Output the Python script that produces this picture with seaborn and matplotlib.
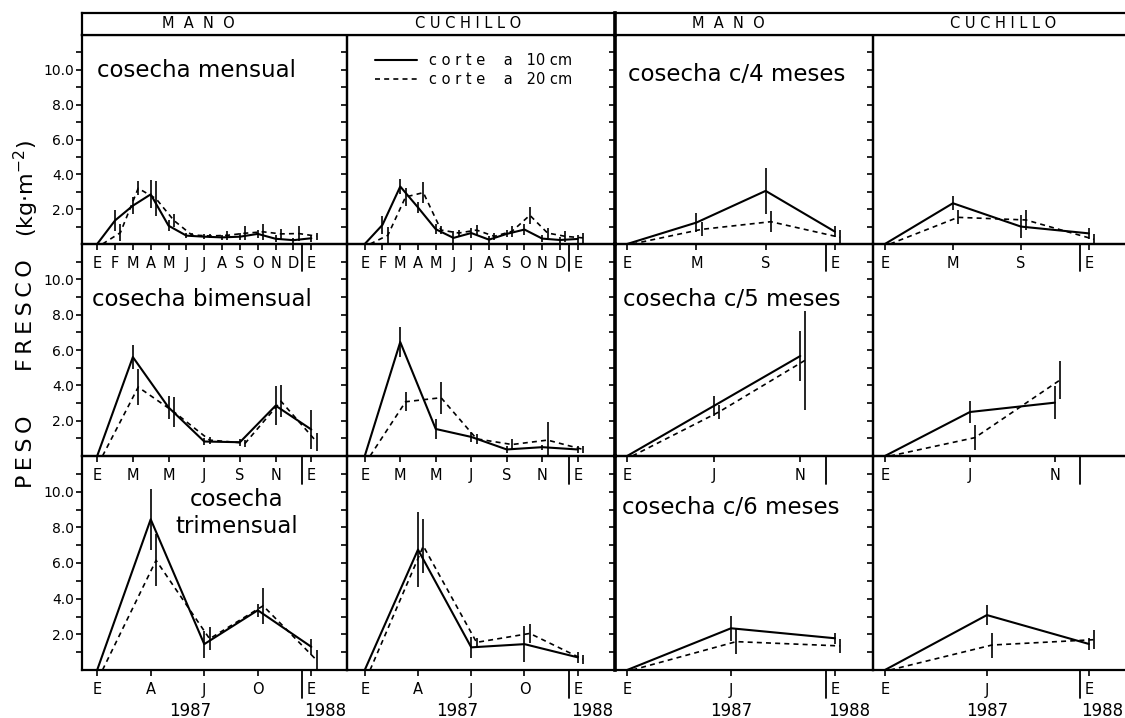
import numpy as np
import pandas as pd
import matplotlib
matplotlib.use("Agg")
import matplotlib.pyplot as plt
import matplotlib.transforms as mtransforms
from matplotlib.lines import Line2D
import seaborn as sns

# ---------------- data (kg/m2) ----------------
meses_mensual = [0, 1, 2, 3, 4, 5, 6, 7, 8, 9, 10, 11, 12]
meses_bimensual = [0, 2, 4, 6, 8, 10, 12]
meses_trimensual = [0, 3, 6, 9, 12]
meses_c4 = [0, 4, 8, 12]
meses_c5 = [0, 5, 10]
meses_c6 = [0, 6, 12]

lab_mensual = ["E", "F", "M", "A", "M", "J", "J", "A", "S", "O", "N", "D", "E"]
lab_bimensual = ["E", "M", "M", "J", "S", "N", "E"]
lab_trimensual = ["E", "A", "J", "O", "E"]
lab_c4 = ["E", "M", "S", "E"]
lab_c5 = ["E", "J", "N"]
lab_c6 = ["E", "J", "E"]

# cosecha mensual
mens_mano_10 = [0, 1.35, 2.2, 2.85, 1.05, 0.48, 0.42, 0.38, 0.42, 0.58, 0.30, 0.22, 0.33]
mens_mano_10_err = [0, 0.6, 0.5, 0.8, 0.3, 0.15, 0.15, 0.15, 0.2, 0.25, 0.2, 0.15, 0.2]
mens_mano_20 = [0, 0.65, 3.2, 2.6, 1.35, 0.52, 0.46, 0.50, 0.62, 0.70, 0.58, 0.60, 0.45]
mens_mano_20_err = [0, 0.5, 0.4, 1.0, 0.4, 0.1, 0.1, 0.25, 0.4, 0.45, 0.3, 0.45, 0.2]
mens_cuch_10 = [0, 1.1, 3.3, 2.1, 0.85, 0.35, 0.63, 0.25, 0.58, 0.83, 0.31, 0.23, 0.29]
mens_cuch_10_err = [0, 0.5, 0.45, 0.3, 0.3, 0.4, 0.3, 0.2, 0.2, 0.3, 0.2, 0.2, 0.25]
mens_cuch_20 = [0, 0.5, 2.7, 2.95, 0.8, 0.63, 0.8, 0.44, 0.73, 1.65, 0.63, 0.44, 0.35]
mens_cuch_20_err = [0, 0.5, 0.5, 0.6, 0.25, 0.2, 0.3, 0.2, 0.3, 0.5, 0.3, 0.3, 0.3]

# cosecha bimensual
bim_mano_10 = [0, 5.6, 2.75, 0.82, 0.78, 2.85, 1.5]
bim_mano_10_err = [0, 0.7, 0.65, 0.2, 0.2, 1.1, 1.1]
bim_mano_20 = [0, 3.9, 2.5, 0.9, 0.73, 3.1, 0.8]
bim_mano_20_err = [0, 1.0, 0.85, 0.2, 0.2, 0.9, 0.5]
bim_cuch_10 = [0, 6.45, 1.53, 1.08, 0.37, 0.5, 0.37]
bim_cuch_10_err = [0, 0.85, 0.55, 0.3, 0.2, 0.15, 0.2]
bim_cuch_20 = [0, 3.07, 3.3, 0.97, 0.65, 0.9, 0.37]
bim_cuch_20_err = [0, 0.55, 0.9, 0.3, 0.3, 1.0, 0.2]

# cosecha trimensual
tri_mano_10 = [0, 8.45, 1.45, 3.35, 1.3]
tri_mano_10_err = [0, 1.7, 0.75, 0.35, 0.45]
tri_mano_20 = [0, 6.15, 1.75, 3.6, 0.55]
tri_mano_20_err = [0, 1.45, 0.65, 1.0, 0.55]
tri_cuch_10 = [0, 6.75, 1.27, 1.45, 0.71]
tri_cuch_10_err = [0, 2.1, 0.6, 1.0, 0.3]
tri_cuch_20 = [0, 6.95, 1.55, 2.05, 0.6]
tri_cuch_20_err = [0, 1.5, 0.25, 0.55, 0.25]

# cosecha c/4 meses
c4_mano_10 = [0, 1.23, 3.05, 0.71]
c4_mano_10_err = [0, 0.55, 1.3, 0.3]
c4_mano_20 = [0, 0.84, 1.28, 0.38]
c4_mano_20_err = [0, 0.4, 0.6, 0.4]
c4_cuch_10 = [0, 2.34, 1.0, 0.61]
c4_cuch_10_err = [0, 0.4, 0.65, 0.3]
c4_cuch_20 = [0, 1.53, 1.38, 0.27]
c4_cuch_20_err = [0, 0.4, 0.55, 0.3]

# cosecha c/5 meses
c5_mano_10 = [0, 2.83, 5.66]
c5_mano_10_err = [0, 0.55, 1.4]
c5_mano_20 = [0, 2.49, 5.43]
c5_mano_20_err = [0, 0.4, 2.8]
c5_cuch_10 = [0, 2.49, 3.02]
c5_cuch_10_err = [0, 0.6, 0.95]
c5_cuch_20 = [0, 1.04, 4.3]
c5_cuch_20_err = [0, 0.7, 1.1]

# cosecha c/6 meses
c6_mano_10 = [0, 2.34, 1.78]
c6_mano_10_err = [0, 0.7, 0.3]
c6_mano_20 = [0, 1.59, 1.35]
c6_mano_20_err = [0, 0.7, 0.4]
c6_cuch_10 = [0, 3.08, 1.46]
c6_cuch_10_err = [0, 0.55, 0.35]
c6_cuch_20 = [0, 1.4, 1.7]
c6_cuch_20_err = [0, 0.7, 0.55]

titulos = {(0, 0): "cosecha mensual", (1, 0): "cosecha bimensual",
           (2, 0): "cosecha\ntrimensual", (0, 2): "cosecha c/4 meses",
           (1, 2): "cosecha c/5 meses", (2, 2): "cosecha c/6 meses"}
cabeceras = ["M  A  N  O", "C U C H I L L O", "M  A  N  O", "C U C H I L L O"]
leyenda = ["c o r t e    a   10 cm", "c o r t e    a   20 cm"]

# ---------------- style ----------------
sns.set_theme(style="ticks")
plt.rcParams["font.family"] = ["DejaVu Sans"]
plt.rcParams["axes.edgecolor"] = "black"
plt.rcParams["xtick.color"] = "black"
plt.rcParams["ytick.color"] = "black"
plt.rcParams["text.color"] = "black"
plt.rcParams["axes.labelcolor"] = "black"

W, H = 1125, 718
fig = plt.figure(figsize=(W / 100, H / 100), dpi=100)
fig.patch.set_facecolor("white")

col_x = [82, 347, 615, 873, 1128]
row_y = [35, 244, 456, 670]
XLIM = [(-0.85, 14.0), (-1.0, 14.1), (-0.7, 14.2), (-0.7, 14.3)]
DODGE = 0.3
DASH = (0, (3, 2.5))


def axes_at(c, r):
    x0, x1 = col_x[c] / W, col_x[c + 1] / W
    y0, y1 = 1 - row_y[r + 1] / H, 1 - row_y[r] / H
    return fig.add_axes([x0, y0, x1 - x0, y1 - y0])


panels = [
    (0, 0, meses_mensual, lab_mensual, mens_mano_10, mens_mano_10_err, mens_mano_20, mens_mano_20_err),
    (0, 1, meses_mensual, lab_mensual, mens_cuch_10, mens_cuch_10_err, mens_cuch_20, mens_cuch_20_err),
    (1, 0, meses_bimensual, lab_bimensual, bim_mano_10, bim_mano_10_err, bim_mano_20, bim_mano_20_err),
    (1, 1, meses_bimensual, lab_bimensual, bim_cuch_10, bim_cuch_10_err, bim_cuch_20, bim_cuch_20_err),
    (2, 0, meses_trimensual, lab_trimensual, tri_mano_10, tri_mano_10_err, tri_mano_20, tri_mano_20_err),
    (2, 1, meses_trimensual, lab_trimensual, tri_cuch_10, tri_cuch_10_err, tri_cuch_20, tri_cuch_20_err),
    (0, 2, meses_c4, lab_c4, c4_mano_10, c4_mano_10_err, c4_mano_20, c4_mano_20_err),
    (0, 3, meses_c4, lab_c4, c4_cuch_10, c4_cuch_10_err, c4_cuch_20, c4_cuch_20_err),
    (1, 2, meses_c5, lab_c5, c5_mano_10, c5_mano_10_err, c5_mano_20, c5_mano_20_err),
    (1, 3, meses_c5, lab_c5, c5_cuch_10, c5_cuch_10_err, c5_cuch_20, c5_cuch_20_err),
    (2, 2, meses_c6, lab_c6, c6_mano_10, c6_mano_10_err, c6_mano_20, c6_mano_20_err),
    (2, 3, meses_c6, lab_c6, c6_cuch_10, c6_cuch_10_err, c6_cuch_20, c6_cuch_20_err),
]

for r, c, meses, etiquetas, v10, e10, v20, e20 in panels:
    ax = axes_at(c, r)
    ax.patch.set_alpha(0)
    d10 = pd.DataFrame({"x": np.array(meses, float), "peso": v10, "err": e10})
    d20 = pd.DataFrame({"x": np.array(meses, float) + DODGE, "peso": v20, "err": e20})
    sns.lineplot(data=d10, x="x", y="peso", color="black", lw=1.5, ax=ax,
                 estimator=None, errorbar=None, legend=False)
    sns.lineplot(data=d20, x="x", y="peso", color="black", lw=1.2, ax=ax,
                 linestyle=DASH, estimator=None, errorbar=None, legend=False)
    for d in (d10, d20):
        dd = d[d["err"] > 0]
        ax.vlines(dd["x"], dd["peso"] - dd["err"], dd["peso"] + dd["err"],
                  colors="black", lw=1.2)
    ax.set_xlim(*XLIM[c])
    ax.set_ylim(0, 12)
    ax.set_xlabel("")
    ax.set_ylabel("")
    ax.set_xticks(meses)
    ax.set_xticklabels(etiquetas)
    ax.set_yticks([2, 4, 6, 8, 10])
    ax.set_yticks([1, 3, 5, 7, 9, 11], minor=True)
    if c == 0:
        ax.set_yticklabels(["2.0", "4.0", "6.0", "8.0", "10.0"])
    else:
        ax.set_yticklabels([])
    ax.tick_params(axis="y", which="both", direction="out", length=4, width=1.2,
                   pad=1.5, labelsize=10)
    ax.tick_params(axis="x", direction="out", length=4, width=1.2, pad=5,
                   labelsize=10.5)
    for s in ax.spines.values():
        s.set_linewidth(1.6)
    if c == 2:
        ax.spines["left"].set_linewidth(2.6)
    # separator before the January of the following year
    ax.axvline(11.5, ymin=-0.13, ymax=0, color="black", lw=1.3, clip_on=False)
    if (r, c) in titulos:
        t = titulos[(r, c)]
        if r == 2 and c == 0:
            ax.text(0.585, 0.735, t, transform=ax.transAxes, ha="center",
                    va="center", fontsize=16.5, linespacing=1.2)
        else:
            xs = {(0, 0): 0.057, (1, 0): 0.038, (0, 2): 0.05, (1, 2): 0.031, (2, 2): 0.027}
            ys = {(0, 0): 0.828, (1, 0): 0.736, (0, 2): 0.81, (1, 2): 0.736, (2, 2): 0.76}
            ax.text(xs[(r, c)], ys[(r, c)], t, transform=ax.transAxes,
                    ha="left", va="center", fontsize=16.5)
    if r == 2:
        trans = mtransforms.blended_transform_factory(ax.transData, ax.transAxes)
        x87 = 5.2 if c < 2 else 6.0
        ax.text(x87, -0.19, "1987", transform=trans, ha="center", va="center",
                fontsize=12)
        ax.text(12.8, -0.19, "1988", transform=trans, ha="center", va="center",
                fontsize=12)
    if r == 0 and c == 1:
        handles = [Line2D([], [], color="black", lw=1.5),
                   Line2D([], [], color="black", lw=1.2, linestyle=DASH)]
        ax.legend(handles, leyenda, loc="upper left", bbox_to_anchor=(0.105, 0.915),
                  frameon=False, fontsize=10.5, handlelength=2.9,
                  handletextpad=0.8, labelspacing=0.3, borderaxespad=0,
                  borderpad=0)

# header boxes
for (xa, xb), names, centers in [((82, 615), cabeceras[:2], [198, 468]),
                                 ((615, 1128), cabeceras[2:], [728, 1003])]:
    hx = fig.add_axes([xa / W, 1 - 35 / H, (xb - xa) / W, 22 / H])
    hx.set_xlim(xa, xb)
    hx.set_ylim(0, 1)
    hx.set_xticks([])
    hx.set_yticks([])
    for s in hx.spines.values():
        s.set_linewidth(1.6)
    if xa == 615:
        hx.spines["left"].set_linewidth(2.6)
    for name, cx in zip(names, centers):
        hx.text(cx, 0.5, name, ha="center", va="center", fontsize=10.5)

# y axis label
fig.text(26 / W, 1 - 452 / H, "P\u2009E\u2009S\u2009O", rotation=90,
         ha="center", va="center", fontsize=16)
fig.text(26 / W, 1 - 315 / H, "F\u2009R\u2009E\u2009S\u2009C\u2009O", rotation=90,
         ha="center", va="center", fontsize=16)
fig.text(26 / W, 1 - 189 / H, "(kg\u00b7m$^{-2}$)", rotation=90,
         ha="center", va="center", fontsize=16)

fig.savefig("out.png", dpi=100, facecolor="white")
